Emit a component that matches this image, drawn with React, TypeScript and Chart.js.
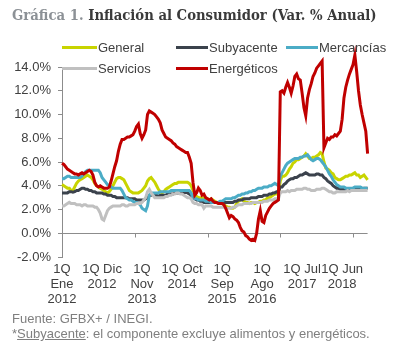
import React, { useEffect, useLayoutEffect, useRef } from 'react';
import { Chart, registerables } from 'chart.js';

Chart.register(...registerables);

// ---------- DATA ----------
const months = ['Ene', 'Feb', 'Mar', 'Abr', 'May', 'Jun', 'Jul', 'Ago', 'Sep', 'Oct', 'Nov', 'Dic'];
const startYear = 2012;
const periodCount = 169; // 1Q Ene 2012 ... 1Q Ene 2019 (quincenas)
const periods = Array.from({ length: periodCount }, (_, i) =>
  `${i % 2 === 0 ? '1Q' : '2Q'} ${months[Math.floor(i / 2) % 12]} ${startYear + Math.floor(i / 24)}`
);

const xTickLabels = [
  ['1Q', 'Ene', '2012'],
  ['1Q Dic', '2012'],
  ['1Q', 'Nov', '2013'],
  ['1Q Oct', '2014'],
  ['1Q', 'Sep', '2015'],
  ['1Q', 'Ago', '2016'],
  ['1Q Jul', '2017'],
  ['1Q Jun', '2018'],
];
const xLabelEvery = 22;
const xMarkEvery = 40;

const yMin = -2;
const yMax = 14;
const yStep = 2;

const general = [
  4.1, 4.0, 3.9, 3.8, 3.8, 3.6, 3.6, 3.9, 4.2, 4.4, 4.5, 4.6, 4.7, 4.8, 4.9, 4.8, 4.7, 4.5, 4.2, 4.0, 3.9, 3.8, 3.7, 3.6,
  3.5, 3.4, 3.5, 3.7, 4.0, 4.3, 4.6, 4.7, 4.7, 4.6, 4.5, 4.2, 3.9, 3.6, 3.5, 3.4, 3.4, 3.4, 3.4, 3.5, 3.6, 3.8, 4.0, 4.4,
  4.6, 4.7, 4.5, 4.3, 4.0, 3.7, 3.5, 3.4, 3.5, 3.7, 3.8, 3.9, 4.0, 4.1, 4.2, 4.2, 4.3, 4.3, 4.3, 4.3, 4.3, 4.3, 4.2, 4.0,
  3.6, 3.3, 3.1, 3.0, 3.0, 2.9, 3.0, 2.9, 2.9, 2.8, 2.9, 2.8, 2.7, 2.6, 2.5, 2.5, 2.5, 2.4, 2.3, 2.2, 2.2, 2.1, 2.1, 2.2,
  2.5, 2.7, 2.8, 2.9, 2.7, 2.6, 2.6, 2.5, 2.6, 2.6, 2.5, 2.6, 2.6, 2.7, 2.7, 2.8, 2.8, 3.0, 3.0, 3.1, 3.2, 3.3, 3.3, 3.4,
  4.4, 4.8, 4.8, 4.9, 5.1, 5.4, 5.6, 5.9, 6.0, 6.2, 6.2, 6.3, 6.4, 6.5, 6.7, 6.5, 6.3, 6.3, 6.4, 6.4, 6.5, 6.6, 6.8, 6.7,
  6.0, 5.5, 5.4, 5.3, 5.1, 5.0, 4.7, 4.6, 4.5, 4.5, 4.6, 4.7, 4.8, 4.8, 4.9, 4.9, 5.0, 5.1, 4.9, 4.9, 4.7, 4.8, 4.9, 4.7,
  4.5,
];

const subyacente = [
  3.4, 3.4, 3.4, 3.4, 3.5, 3.5, 3.45, 3.5, 3.6, 3.6, 3.7, 3.8, 3.8, 3.7, 3.7, 3.6, 3.6, 3.5, 3.5, 3.4, 3.4, 3.4, 3.4, 3.3,
  3.3, 3.2, 3.2, 3.2, 3.1, 3.1, 3.0, 3.0, 3.0, 3.0, 3.0, 3.0, 3.0, 2.9, 2.9, 2.9, 2.9, 2.8, 2.8, 2.8, 2.8, 2.8, 2.9, 3.0,
  3.2, 3.2, 3.3, 3.2, 3.2, 3.1, 3.2, 3.2, 3.2, 3.2, 3.3, 3.3, 3.3, 3.3, 3.4, 3.4, 3.4, 3.4, 3.4, 3.4, 3.45, 3.4, 3.3, 3.2,
  3.0, 2.9, 2.8, 2.8, 2.7, 2.7, 2.6, 2.6, 2.6, 2.6, 2.6, 2.6, 2.6, 2.6, 2.6, 2.6, 2.6, 2.6, 2.6, 2.6, 2.6, 2.6, 2.6, 2.7,
  2.7, 2.8, 2.8, 2.8, 2.9, 2.9, 2.9, 2.9, 3.0, 3.0, 3.0, 3.0, 3.1, 3.1, 3.1, 3.2, 3.2, 3.2, 3.3, 3.3, 3.4, 3.4, 3.5, 3.5,
  3.9, 3.9, 4.1, 4.2, 4.4, 4.5, 4.6, 4.6, 4.7, 4.7, 4.8, 4.9, 4.9, 5.0, 5.1, 5.0, 4.9, 4.9, 4.9, 4.9, 5.0, 5.0, 4.9, 4.9,
  4.7, 4.6, 4.4, 4.3, 4.2, 4.0, 3.9, 3.8, 3.8, 3.7, 3.7, 3.7, 3.7, 3.7, 3.7, 3.7, 3.7, 3.7, 3.7, 3.8, 3.7, 3.7, 3.8, 3.8,
  3.8,
];

const mercancias = [
  4.6, 4.6, 4.7, 4.8, 4.8, 4.7, 4.7, 4.7, 4.7, 4.7, 4.7, 4.8, 5.0, 5.2, 5.3, 5.3, 5.3, 5.3, 5.3, 5.3, 5.3, 5.1, 4.7, 4.5,
  4.3, 4.1, 4.0, 3.9, 3.8, 3.8, 3.8, 3.8, 3.8, 3.6, 3.3, 3.0, 2.9, 2.8, 2.8, 2.7, 2.6, 2.6, 2.5, 2.4, 2.1, 2.0, 1.9, 2.3,
  3.2, 3.4, 3.4, 3.4, 3.4, 3.4, 3.5, 3.5, 3.5, 3.5, 3.5, 3.5, 3.6, 3.6, 3.6, 3.6, 3.6, 3.6, 3.6, 3.6, 3.6, 3.6, 3.6, 3.4,
  3.0, 2.9, 2.9, 2.8, 2.8, 2.8, 2.8, 2.7, 2.7, 2.7, 2.6, 2.6, 2.6, 2.6, 2.6, 2.7, 2.7, 2.8, 2.9, 2.9, 2.9, 2.9, 3.0, 3.0,
  3.1, 3.2, 3.2, 3.3, 3.3, 3.4, 3.4, 3.5, 3.5, 3.6, 3.6, 3.7, 3.8, 3.8, 3.8, 3.9, 3.9, 3.9, 4.0, 4.0, 4.1, 4.2, 4.1, 4.0,
  4.8, 5.1, 5.4, 5.7, 5.9, 6.0, 6.1, 6.2, 6.3, 6.3, 6.3, 6.4, 6.4, 6.5, 6.5, 6.6, 6.4, 6.2, 6.1, 6.2, 6.3, 6.3, 6.2, 6.0,
  5.8, 5.6, 5.3, 5.0, 4.8, 4.5, 4.3, 4.1, 4.0, 3.9, 3.9, 3.9, 3.8, 3.8, 3.8, 3.8, 3.8, 3.9, 3.9, 3.9, 3.9, 3.8, 3.8, 3.8,
  3.8,
];

const servicios = [
  2.3, 2.3, 2.4, 2.5, 2.6, 2.5, 2.5, 2.5, 2.4, 2.4, 2.4, 2.3, 2.4, 2.4, 2.3, 2.3, 2.3, 2.3, 2.2, 2.2, 2.0, 1.7, 1.2, 1.1,
  1.5, 1.9, 2.1, 2.2, 2.3, 2.3, 2.3, 2.3, 2.3, 2.4, 2.4, 2.3, 2.3, 2.4, 2.4, 2.4, 2.4, 2.5, 2.5, 2.5, 2.6, 2.8, 3.0, 3.5,
  3.7, 3.4, 3.2, 3.0, 3.0, 3.0, 3.0, 3.0, 3.0, 3.1, 3.1, 3.2, 3.2, 3.3, 3.3, 3.4, 3.4, 3.3, 3.3, 3.2, 3.1, 3.0, 3.0, 2.9,
  2.6, 2.5, 2.5, 2.4, 2.4, 2.4, 2.1, 2.3, 2.3, 2.3, 2.3, 2.2, 2.2, 2.2, 2.2, 2.2, 2.2, 2.2, 2.1, 2.1, 2.1, 2.1, 2.2, 2.2,
  2.3, 2.4, 2.4, 2.4, 2.5, 2.5, 2.5, 2.5, 2.5, 2.6, 2.6, 2.6, 2.6, 2.6, 2.6, 2.7, 2.7, 2.7, 2.8, 2.8, 2.8, 2.9, 2.9, 2.9,
  3.4, 3.5, 3.5, 3.5, 3.6, 3.5, 3.6, 3.6, 3.6, 3.7, 3.7, 3.7, 3.7, 3.8, 3.8, 3.7, 3.7, 3.6, 3.6, 3.6, 3.7, 3.7, 3.7, 3.8,
  3.8, 3.7, 3.6, 3.5, 3.5, 3.4, 3.4, 3.5, 3.5, 3.5, 3.5, 3.5, 3.5, 3.6, 3.5, 3.6, 3.6, 3.6, 3.6, 3.6, 3.6, 3.6, 3.6, 3.6,
  3.6,
];

const energeticos = [
  5.9, 5.8, 5.6, 5.4, 5.3, 5.2, 5.1, 5.0, 5.0, 4.9, 5.0, 5.1, 5.0, 5.1, 5.2, 5.3, 5.2, 4.9, 4.3, 4.0, 3.9, 4.0, 3.9, 3.8,
  3.8, 3.8, 3.9, 4.4, 5.0, 5.6, 6.1, 6.9, 7.5, 7.9, 7.9, 8.0, 8.1, 8.1, 8.2, 8.3, 8.6, 9.0, 9.2, 8.4, 8.0, 8.3, 8.7, 10.0,
  10.3, 10.2, 10.1, 10.0, 9.8, 9.6, 9.3, 8.7, 8.4, 8.1, 8.0, 7.9, 7.8, 7.6, 7.5, 7.3, 7.2, 7.1, 7.0, 6.9, 6.8, 6.8, 6.4, 5.9,
  4.3, 3.2, 3.4, 3.8, 3.6, 3.2, 3.3, 3.0, 2.9, 2.8, 2.9, 2.7, 2.6, 2.6, 2.5, 2.5, 2.5, 2.4, 2.1, 1.7, 1.3, 1.5, 1.4, 1.2,
  1.1, 0.9, 0.5, 0.2, 0.1, -0.2, -0.3, -0.5, -0.6, -0.5, -0.6, 0.0, 1.2, 1.9, 1.0, 0.9, 1.5, 1.8, 2.1, 2.3, 2.5, 2.6, 2.7, 2.8,
  11.9, 12.0, 11.8, 12.3, 12.7, 12.3, 11.8, 12.4, 13.2, 13.4, 13.0, 12.9, 11.8, 10.6, 9.9, 11.4, 12.1, 12.6, 13.2, 13.5, 13.9, 14.1, 14.3, 14.5,
  7.2, 7.6, 8.0, 7.9, 8.1, 8.1, 8.3, 8.2, 8.4, 8.6, 9.6, 11.4, 12.3, 12.9, 13.4, 13.8, 14.2, 15.0, 13.6, 12.0, 10.8, 10.0, 9.3, 8.6,
  6.7,
];

const seriesNames = ['General', 'Subyacente', 'Mercancías', 'Servicios', 'Energéticos'];
const seriesValues = [general, subyacente, mercancias, servicios, energeticos];

// ---------- STYLE ----------
const seriesColors = ['#C8D400', '#3B424C', '#4BACC6', '#C0C0C0', '#C00000'];
const AXIS = '#8C8C8C';
const TEXT = '#404040';
const FONT = "'Liberation Sans', Arial, sans-serif";
const W = 401;
const H = 353;

// legend layout (one entry per series)
const legendLayout = [
  { x: 62, y: 47, len: 35 },
  { x: 176, y: 47, len: 32 },
  { x: 286, y: 47, len: 32 },
  { x: 62, y: 68, len: 35 },
  { x: 176, y: 68, len: 32 },
];

const zeroAxisPlugin = {
  id: 'zeroAxis',
  beforeDatasetsDraw(chart: any) {
    const { ctx, chartArea, scales } = chart;
    const y0 = Math.round(scales.y.getPixelForValue(0)) + 0.5;
    ctx.save();
    ctx.strokeStyle = AXIS;
    ctx.lineWidth = 1;
    ctx.beginPath();
    ctx.moveTo(chartArea.left, y0);
    ctx.lineTo(chartArea.right, y0);
    for (let i = 0; i < periods.length; i += xMarkEvery) {
      const x = Math.round(scales.x.getPixelForValue(i)) + 0.5;
      ctx.moveTo(x, y0);
      ctx.lineTo(x, y0 + 4);
    }
    ctx.stroke();
    ctx.restore();
  },
};

export default function App() {
  const canvasRef = useRef<HTMLCanvasElement | null>(null);
  const titleRef = useRef<HTMLDivElement | null>(null);

  useLayoutEffect(() => {
    const el = titleRef.current;
    if (el) {
      const w = el.offsetWidth;
      if (w > 0) el.style.transform = `scaleX(${365 / w})`;
    }
  }, []);

  useEffect(() => {
    if (!canvasRef.current) return;
    const datasets = seriesNames.map((name, k) => ({
      label: name,
      data: seriesValues[k],
      borderColor: seriesColors[k],
      backgroundColor: seriesColors[k],
      borderWidth: 3,
      pointRadius: 0,
      tension: 0,
      clip: false as any,
      order: seriesNames.length - k,
    }));
    const chart = new Chart(canvasRef.current, {
      type: 'line',
      data: { labels: periods, datasets },
      plugins: [zeroAxisPlugin],
      options: {
        responsive: false,
        animation: false,
        events: [],
        layout: { padding: { left: 0, right: 33.4, top: 67, bottom: 36 } },
        plugins: { legend: { display: false }, tooltip: { enabled: false }, title: { display: false } },
        scales: {
          x: {
            type: 'category',
            offset: false,
            grid: { display: false, drawTicks: false },
            border: { display: false },
            afterBuildTicks: (scale: any) => {
              scale.ticks = scale.ticks.filter((t: any) => t.value % xLabelEvery === 0);
            },
            afterFit: (scale: any) => {
              scale.height = 60;
            },
            ticks: {
              autoSkip: false,
              maxRotation: 0,
              minRotation: 0,
              padding: 5,
              color: TEXT,
              font: { family: FONT, size: 13, lineHeight: 1.15 },
              callback: (value: any) => xTickLabels[Math.round(Number(value) / xLabelEvery)] ?? '',
            },
          },
          y: {
            min: yMin,
            max: yMax,
            grid: { drawOnChartArea: false, drawTicks: true, tickLength: 4, color: AXIS },
            border: { display: true, color: AXIS },
            afterFit: (scale: any) => {
              scale.width = 62;
            },
            ticks: {
              stepSize: yStep,
              padding: 7,
              color: TEXT,
              font: { family: FONT, size: 13 },
              callback: (v: any) => `${Number(v).toFixed(1)}%`,
            },
          },
        },
      },
    });
    return () => chart.destroy();
  }, []);

  return (
    <div style={{ position: 'absolute', left: 0, top: 0, width: W, height: H, background: '#fff', overflow: 'hidden' }}>
      <canvas ref={canvasRef} width={W} height={H} style={{ position: 'absolute', left: 0, top: 0, width: W, height: H }} />
      <div
        ref={titleRef}
        style={{
          position: 'absolute',
          left: 12,
          top: 5.5,
          whiteSpace: 'nowrap',
          transformOrigin: 'left top',
          fontFamily: "'DejaVu Serif', serif",
          fontStretch: 'condensed',
          fontWeight: 'bold',
          fontSize: 15,
          lineHeight: '18px',
          color: '#3A3A3A',
        }}
      >
        <span style={{ color: '#8C9196' }}>Gráfica 1.</span> Inflación al Consumidor (Var. % Anual)
      </div>
      {seriesNames.map((name, k) => (
        <div key={name}>
          <div
            style={{
              position: 'absolute',
              left: legendLayout[k].x,
              top: legendLayout[k].y - 1.5,
              width: legendLayout[k].len,
              height: 3,
              background: seriesColors[k],
            }}
          />
          <div
            style={{
              position: 'absolute',
              left: legendLayout[k].x + legendLayout[k].len + 1,
              top: legendLayout[k].y - 7.5,
              fontFamily: FONT,
              fontSize: 13,
              lineHeight: '15px',
              color: TEXT,
              whiteSpace: 'nowrap',
            }}
          >
            {name}
          </div>
        </div>
      ))}
      <div
        style={{
          position: 'absolute',
          left: 12,
          top: 310.5,
          fontFamily: FONT,
          fontSize: 13,
          lineHeight: '15.5px',
          color: '#7F7F7F',
          whiteSpace: 'nowrap',
        }}
      >
        <div>Fuente: GFBX+ / INEGI.</div>
        <div>
          *<span style={{ textDecoration: 'underline' }}>Subyacente</span>: el componente excluye alimentos y energéticos.
        </div>
      </div>
    </div>
  );
}
